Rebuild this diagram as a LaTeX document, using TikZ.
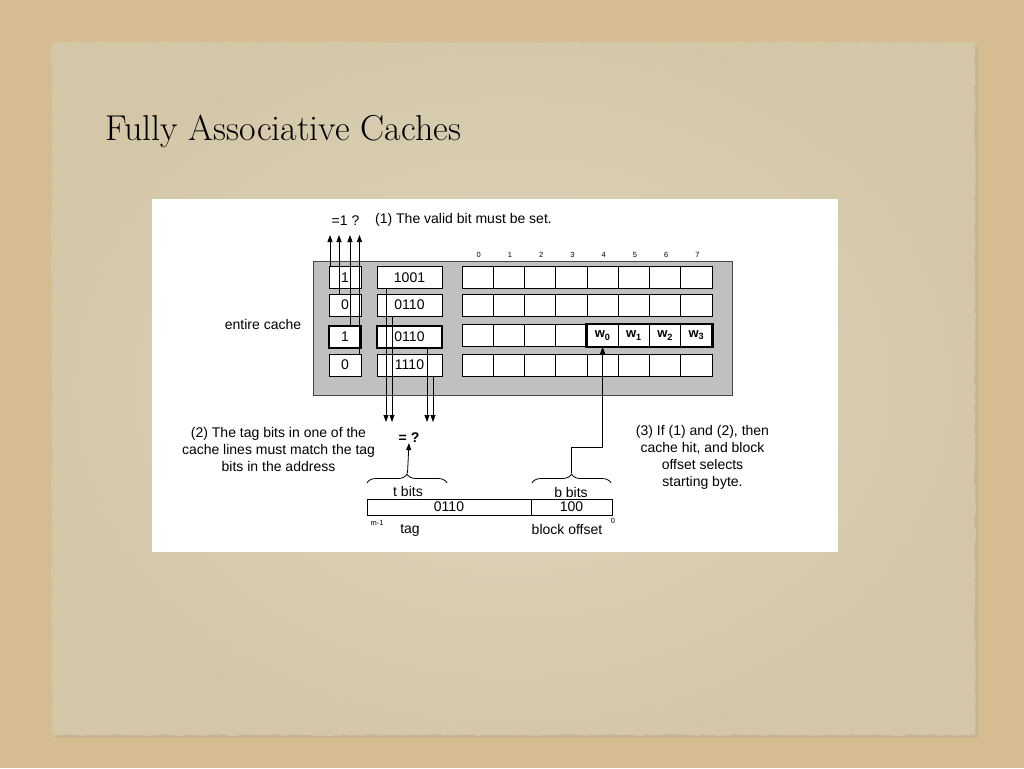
\documentclass[tikz,border=0pt]{standalone}
\usepackage{fontspec}
\newfontfamily\helv{Liberation Sans}
\usetikzlibrary{arrows.meta,decorations.pathreplacing,decorations.pathmorphing}

\definecolor{sand}{RGB}{213,189,145}
\definecolor{paper}{RGB}{223,213,190}
\definecolor{paperedge}{RGB}{212,199,168}
\definecolor{cachegray}{RGB}{192,192,192}
\definecolor{cacheline}{RGB}{70,70,70}

\begin{document}
\begin{tikzpicture}[x=1pt,y=-1pt,
  wire/.style={line width=0.8pt,draw=black},
  tip/.style={-{Triangle[length=7pt,width=5pt]}},
  box/.style={draw=black,fill=white,line width=0.8pt,inner sep=0pt,
    minimum height=22pt,font=\helv\fontsize{14}{14}\selectfont},
  vbox/.style={box,minimum width=32pt},
  tbox/.style={box,minimum width=65pt},
  cell/.style={box,minimum width=31.25pt,font=\helv\bfseries\fontsize{13}{13}\selectfont},
  sel/.style={line width=2.6pt},
  lbl/.style={font=\helv\fontsize{14}{17}\selectfont,inner sep=0pt},
  tiny/.style={font=\helv\fontsize{7.5}{8}\selectfont,inner sep=0pt},
  field/.style={draw=black,fill=white,line width=0.8pt,inner sep=0pt,
    minimum height=16pt,font=\helv\fontsize{14}{14}\selectfont},
  brc/.style={decorate,decoration={brace,amplitude=9pt},line width=0.8pt}
]
\useasboundingbox (0,0) rectangle (1024,768);

% desk and sheet of paper
\fill[sand] (0,0) rectangle (1024,768);
\pgfmathsetseed{11}
\fill[black!40,opacity=0.25] (55,46) rectangle (978,738);
\begin{scope}
\path[clip,decorate,decoration={random steps,segment length=4pt,amplitude=0.9pt}]
  (52,42) rectangle (975,735);
\shade[inner color=paper,outer color=paperedge] (20,10) rectangle (1005,765);
\end{scope}

% slide title
\node[anchor=base west,inner sep=0pt,font=\fontsize{36}{36}\selectfont] (title)
  at (105,140) {Fully Associative Caches};

% white figure panel
\fill[white] (152,199) rectangle (838,552);

% cache array background
\node[draw=cacheline,fill=cachegray,line width=1pt,minimum width=419pt,
  minimum height=134pt,inner sep=0pt] (cache) at (522.5,328) {};

% valid bits
\node[vbox] (v1) at (345,277.5) {1};
\node[vbox] (v2) at (345,305) {0};
\node[vbox,sel] (v3) at (345,337) {1};
\node[vbox] (v4) at (345,365) {0};

% tags
\node[tbox] (t1) at (409.5,277.5) {1001};
\node[tbox] (t2) at (409.5,305) {0110};
\node[tbox,sel] (t3) at (409.5,337) {0110};
\node[tbox] (t4) at (409.5,365) {1110};

% data blocks
\foreach \r/\y in {1/277.5,2/305,3/335.5,4/365}
  \foreach \c in {0,...,7}
    \node[cell] (c\r\c) at ({462+31.25*(\c+0.5)},\y) {};
\node[cell] (w0) at (c34) {w\textsubscript{0}};
\node[cell] (w1) at (c35) {w\textsubscript{1}};
\node[cell] (w2) at (c36) {w\textsubscript{2}};
\node[cell] (w3) at (c37) {w\textsubscript{3}};
\draw[sel] (w0.north west) rectangle (w3.south east);

% byte numbers
\foreach \c in {0,...,7}
  \node[tiny] (n\c) at ({462+31.25*(\c+0.5)+1},255) {\c};

% valid-bit checks
\coordinate (a1) at (330,235);
\coordinate (a2) at (339,235);
\coordinate (a3) at (350,235);
\coordinate (a4) at (359.5,235);
\draw[wire,tip] (v1.north -| a1) -- (a1);
\draw[wire,tip] (v2.north -| a2) -- (a2);
\draw[wire,tip] (v3.north -| a3) -- (a3);
\draw[wire,tip] (v4.north -| a4) -- (a4);
\node[lbl] (q1) at (345.5,221) {=1 ?};
\node[lbl,anchor=west] (s1) at (375,220) {(1) The valid bit must be set.};

% tag comparisons
\coordinate (b1) at (386,422);
\coordinate (b2) at (392,422);
\coordinate (b3) at (427,422);
\coordinate (b4) at (433,422);
\draw[wire,tip] (t1.south -| b1) -- (b1);
\draw[wire,tip] (t2.south -| b2) -- (b2);
\draw[wire,tip] (t3.south -| b3) -- (b3);
\draw[wire,tip] (t4.south -| b4) -- (b4);
\node[lbl,font=\helv\bfseries\fontsize{14}{14}\selectfont] (eq) at (409,438) {= ?};

\node[lbl] (ec) at (263,324) {entire cache};
\node[lbl,align=center] (s2) at (278.5,449)
  {(2) The tag bits in one of the\\cache lines must match the tag\\bits in the address};
\node[lbl,align=center] (s3) at (702.5,457.5)
  {(3) If (1) and (2), then\\cache hit, and block\\offset selects\\starting byte.};

% address fields
\node[field,minimum width=164pt] (ftag) at (449,507) {0110};
\node[field,minimum width=81pt] (foff) at (571.5,507) {100};
\node[lbl] (tb) at (408,491) {t bits};
\node[lbl] (bb) at (571,492) {b bits};
\node[lbl] (tg) at (410,530) {tag};
\node[lbl] (bo) at (567,529) {block offset};
\node[tiny] (hi) at (377,523) {m-1};
\node[tiny] (lo) at (613,521) {0};

% braces over the fields
\draw[brc] (367,483) -- (447,483);
\draw[brc] (532,483) -- (611,483);
\coordinate (ttip) at (407.5,473);
\coordinate (btip) at (571.5,473);
\coordinate (bend) at (571.5,447);
\draw[wire,tip] (ttip) -- (eq.south);
\draw[wire,tip] (btip) -- (bend) -| (w0.south);
\end{tikzpicture}
\end{document}
